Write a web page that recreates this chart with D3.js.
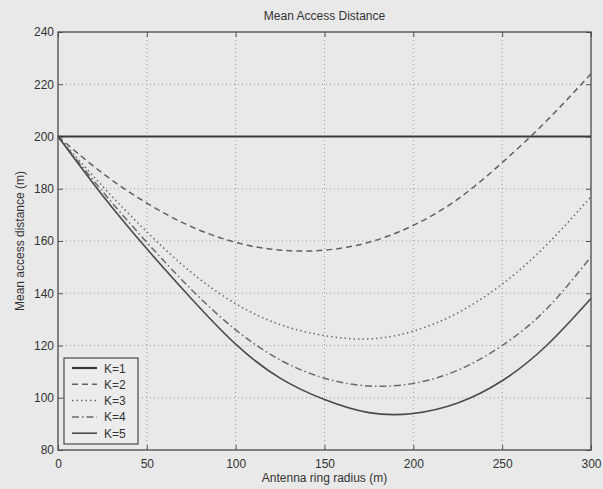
<!DOCTYPE html>
<html><head><meta charset="utf-8">
<script src="https://cdn.jsdelivr.net/npm/d3@7"></script>
<style>
body{margin:0;background:#e9e9e9;}
svg{display:block;font-family:"Liberation Sans",Arial,sans-serif;}
</style></head><body>
<svg id="chart" width="603" height="489"></svg>
<script>
const radius = [0,25,50,75,100,125,150,175,200,225,250,275,300];
const k1 = [200,200,200,200,200,200,200,200,200,200,200,200,200];
const k2 = [200,186,174.5,165.5,159.5,156.5,156.5,159.5,166,176,190,206,224];
const k3 = [200,181,163.5,148,136,128,123.8,122.5,125.5,132.5,143.5,158.5,177];
const k4 = [200,179,159.5,141.5,126,114.5,107.5,104.5,105.5,110.5,120,134,154];
const k5 = [200,177.5,157,138,120.5,107.5,99.3,94.3,94,98,106.5,120,138];
const seriesNames = ["K=1","K=2","K=3","K=4","K=5"];
const xTicks = [0,50,100,150,200,250,300];
const yTicks = [80,100,120,140,160,180,200,220,240];
const title = "Mean Access Distance";
const xLabel = "Antenna ring radius (m)";
const yLabel = "Mean access distance (m)";

const series = [k1,k2,k3,k4,k5];
const styles = [
  {w:2.2, dash:null, c:"#3a3a3a"},
  {w:1.5, dash:"6,4", c:"#606060"},
  {w:1.5, dash:"1.5,3", c:"#6a6a6a"},
  {w:1.5, dash:"7,3,1.5,3", c:"#6a6a6a"},
  {w:1.6, dash:null, c:"#4a4a4a"}
];

const L=58, R=591, T=32, B=450;
const svg = d3.select("#chart");
const x = d3.scaleLinear().domain([0,300]).range([L,R]);
const y = d3.scaleLinear().domain([80,240]).range([B,T]);

// grid
const g = svg.append("g");
g.selectAll(".gx").data(xTicks.slice(1,-1)).enter().append("line")
 .attr("x1",d=>x(d)).attr("x2",d=>x(d)).attr("y1",T).attr("y2",B)
 .attr("stroke","#9a9a9a").attr("stroke-width",1).attr("stroke-dasharray","1,3");
g.selectAll(".gy").data(yTicks.slice(1,-1)).enter().append("line")
 .attr("y1",d=>y(d)).attr("y2",d=>y(d)).attr("x1",L).attr("x2",R)
 .attr("stroke","#9a9a9a").attr("stroke-width",1).attr("stroke-dasharray","1,3");

// axes with inward ticks
function styleAxis(sel){
  sel.select(".domain").remove();
  sel.selectAll("line").attr("stroke","#555");
  sel.selectAll("text").attr("fill","#333").style("font-size","12px");
}
svg.append("g").attr("transform",`translate(0,${B})`)
  .call(d3.axisBottom(x).tickValues(xTicks).tickSize(-5).tickPadding(9).tickFormat(d3.format("d")))
  .call(styleAxis);
svg.append("g").attr("transform",`translate(0,${T})`)
  .call(d3.axisTop(x).tickValues(xTicks).tickSize(-5).tickFormat(""))
  .call(styleAxis);
svg.append("g").attr("transform",`translate(${L},0)`)
  .call(d3.axisLeft(y).tickValues(yTicks).tickSize(-5).tickPadding(4).tickFormat(d3.format("d")))
  .call(styleAxis);
svg.append("g").attr("transform",`translate(${R},0)`)
  .call(d3.axisRight(y).tickValues(yTicks).tickSize(-5).tickFormat(""))
  .call(styleAxis);

// frame
svg.append("rect").attr("x",L).attr("y",T).attr("width",R-L).attr("height",B-T)
  .attr("fill","none").attr("stroke","#4a4a4a").attr("stroke-width",1.3);

// lines
const line = d3.line().x((d,i)=>x(radius[i])).y(d=>y(d)).curve(d3.curveNatural);
series.forEach((s,i)=>{
  svg.append("path").datum(s).attr("d",line).attr("fill","none")
    .attr("stroke",styles[i].c).attr("stroke-width",styles[i].w)
    .attr("stroke-dasharray",styles[i].dash);
});

// legend
const lg = svg.append("g");
lg.append("rect").attr("x",64).attr("y",358).attr("width",74).attr("height",86)
  .attr("fill","#ececec").attr("stroke","#4a4a4a").attr("stroke-width",1.2);
seriesNames.forEach((n,i)=>{
  const yy = 368 + i*16.3;
  lg.append("line").attr("x1",72).attr("x2",97).attr("y1",yy).attr("y2",yy)
    .attr("stroke",styles[i].c).attr("stroke-width",styles[i].w)
    .attr("stroke-dasharray",styles[i].dash);
  lg.append("text").attr("x",104).attr("y",yy+4.5).text(n)
    .attr("fill","#333").style("font-size","12px");
});

// titles
svg.append("text").attr("x",(L+R)/2).attr("y",20).attr("text-anchor","middle")
  .attr("fill","#333").style("font-size","12px").text(title);
svg.append("text").attr("x",(L+R)/2).attr("y",482).attr("text-anchor","middle")
  .attr("fill","#333").style("font-size","12px").text(xLabel);
svg.append("text").attr("transform",`translate(24,${(T+B)/2}) rotate(-90)`)
  .attr("text-anchor","middle").attr("fill","#333").style("font-size","12px").text(yLabel);
</script>
</body></html>
